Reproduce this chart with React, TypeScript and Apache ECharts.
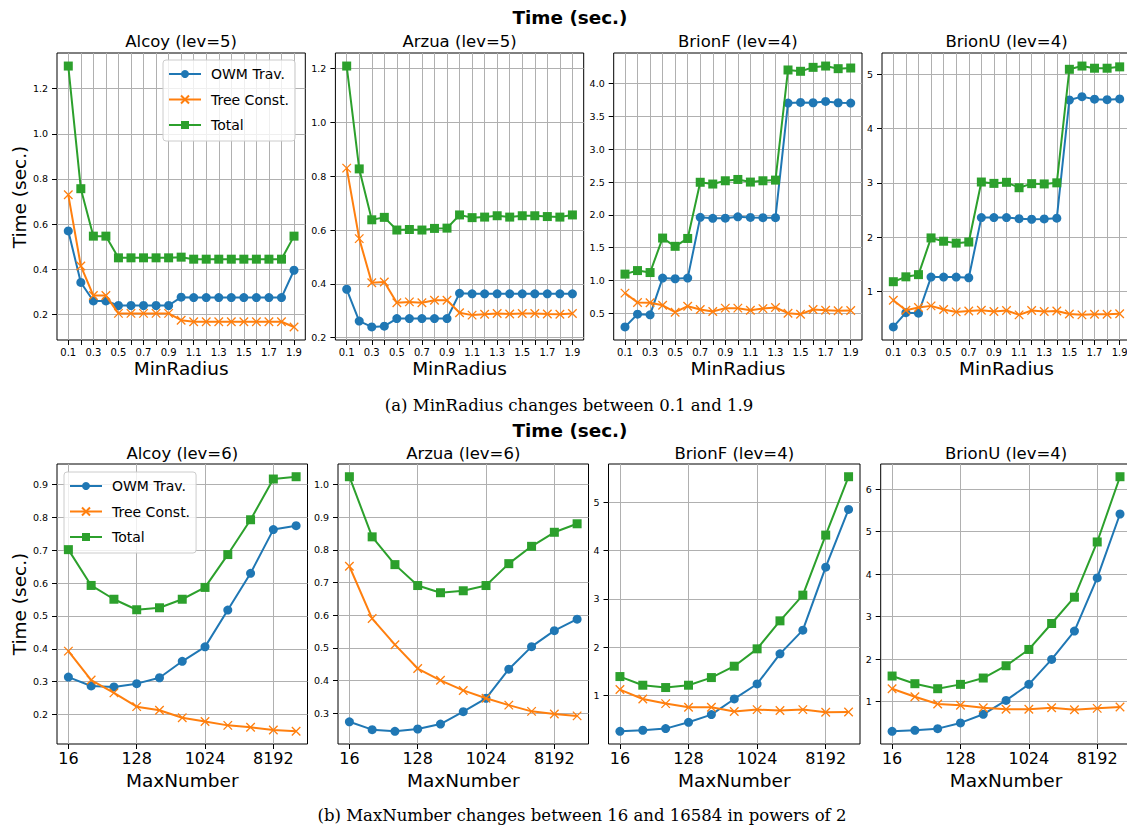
import React, { useEffect, useRef } from "react";
import * as echarts from "echarts";

// ---------- data ----------
const minRadius = [0.1, 0.2, 0.3, 0.4, 0.5, 0.6, 0.7, 0.8, 0.9, 1.0, 1.1, 1.2, 1.3, 1.4, 1.5, 1.6, 1.7, 1.8, 1.9];
const maxNumber = [16, 32, 64, 128, 256, 512, 1024, 2048, 4096, 8192, 16384];

const seriesNames = ["OWM Trav.", "Tree Const.", "Total"];

// (a) MinRadius
const alcoy5Owm = [0.57, 0.342, 0.26, 0.26, 0.24, 0.24, 0.24, 0.24, 0.24, 0.277, 0.275, 0.275, 0.275, 0.275, 0.275, 0.275, 0.275, 0.275, 0.396];
const alcoy5Tree = [0.73, 0.415, 0.284, 0.284, 0.205, 0.205, 0.205, 0.205, 0.205, 0.175, 0.168, 0.168, 0.168, 0.168, 0.168, 0.168, 0.168, 0.168, 0.145];
const alcoy5Total = [1.3, 0.757, 0.547, 0.547, 0.451, 0.451, 0.451, 0.451, 0.451, 0.454, 0.445, 0.445, 0.445, 0.445, 0.445, 0.445, 0.445, 0.445, 0.547];

const arzua5Owm = [0.38, 0.262, 0.24, 0.243, 0.271, 0.271, 0.271, 0.271, 0.271, 0.365, 0.363, 0.363, 0.363, 0.363, 0.363, 0.363, 0.363, 0.363, 0.363];
const arzua5Tree = [0.83, 0.568, 0.404, 0.407, 0.33, 0.333, 0.33, 0.339, 0.339, 0.293, 0.284, 0.287, 0.29, 0.288, 0.29, 0.29, 0.288, 0.287, 0.29];
const arzua5Total = [1.209, 0.827, 0.638, 0.647, 0.6, 0.602, 0.6, 0.606, 0.607, 0.656, 0.646, 0.648, 0.653, 0.648, 0.653, 0.653, 0.65, 0.648, 0.656];

const brionF4aOwm = [0.29, 0.485, 0.475, 1.035, 1.025, 1.035, 1.962, 1.947, 1.95, 1.97, 1.96, 1.957, 1.957, 3.705, 3.715, 3.71, 3.73, 3.71, 3.705];
const brionF4aTree = [0.806, 0.663, 0.658, 0.62, 0.515, 0.607, 0.556, 0.525, 0.577, 0.577, 0.546, 0.57, 0.587, 0.5, 0.485, 0.556, 0.546, 0.536, 0.54];
const brionF4aTotal = [1.096, 1.15, 1.12, 1.646, 1.52, 1.64, 2.497, 2.47, 2.52, 2.54, 2.5, 2.52, 2.53, 4.21, 4.19, 4.25, 4.27, 4.23, 4.24];

const brionU4aOwm = [0.347, 0.61, 0.6, 1.265, 1.265, 1.265, 1.253, 2.36, 2.36, 2.36, 2.34, 2.33, 2.335, 2.35, 4.525, 4.587, 4.54, 4.53, 4.544];
const brionU4aTree = [0.84, 0.655, 0.705, 0.735, 0.667, 0.624, 0.642, 0.655, 0.63, 0.65, 0.57, 0.65, 0.63, 0.642, 0.587, 0.57, 0.58, 0.58, 0.59];
const brionU4aTotal = [1.18, 1.27, 1.31, 1.986, 1.925, 1.89, 1.91, 3.015, 2.99, 3.01, 2.91, 2.985, 2.98, 3.0, 5.09, 5.15, 5.11, 5.11, 5.135];

// (b) MaxNumber
const alcoy6Owm = [0.314, 0.287, 0.284, 0.294, 0.312, 0.362, 0.406, 0.518, 0.63, 0.763, 0.775];
const alcoy6Tree = [0.393, 0.305, 0.266, 0.224, 0.213, 0.19, 0.179, 0.167, 0.161, 0.153, 0.149];
const alcoy6Total = [0.702, 0.593, 0.551, 0.519, 0.525, 0.551, 0.587, 0.687, 0.793, 0.917, 0.924];

const arzua6Owm = [0.274, 0.25, 0.245, 0.252, 0.267, 0.305, 0.346, 0.435, 0.504, 0.553, 0.588];
const arzua6Tree = [0.75, 0.59, 0.51, 0.437, 0.401, 0.37, 0.346, 0.325, 0.306, 0.298, 0.292];
const arzua6Total = [1.024, 0.84, 0.755, 0.691, 0.669, 0.675, 0.691, 0.758, 0.811, 0.854, 0.88];

const brionF4bOwm = [0.262, 0.283, 0.317, 0.448, 0.607, 0.93, 1.24, 1.862, 2.352, 3.655, 4.848];
const brionF4bTree = [1.124, 0.93, 0.834, 0.759, 0.759, 0.669, 0.71, 0.69, 0.71, 0.655, 0.662];
const brionF4bTotal = [1.393, 1.214, 1.166, 1.214, 1.372, 1.607, 1.966, 2.545, 3.076, 4.317, 5.524];

const brionU4bOwm = [0.304, 0.327, 0.366, 0.5, 0.703, 1.03, 1.407, 1.994, 2.66, 3.911, 5.413];
const brionU4bTree = [1.305, 1.117, 0.945, 0.914, 0.859, 0.82, 0.82, 0.859, 0.812, 0.843, 0.875];
const brionU4bTotal = [1.603, 1.423, 1.305, 1.407, 1.556, 1.845, 2.228, 2.838, 3.457, 4.756, 6.29];

// tick labels
const radiusTickLabels = ["0.1", "0.3", "0.5", "0.7", "0.9", "1.1", "1.3", "1.5", "1.7", "1.9"];
const numberTickLabels = ["16", "128", "1024", "8192"];
const yTicksSmall = [0.2, 0.4, 0.6, 0.8, 1.0, 1.2];
const yTicksBrionFa = [0.5, 1.0, 1.5, 2.0, 2.5, 3.0, 3.5, 4.0];
const yTicksBrionUa = [1, 2, 3, 4, 5];
const yTicksAlcoy6 = [0.2, 0.3, 0.4, 0.5, 0.6, 0.7, 0.8, 0.9];
const yTicksArzua6 = [0.3, 0.4, 0.5, 0.6, 0.7, 0.8, 0.9, 1.0];
const yTicksBrionFb = [1, 2, 3, 4, 5];
const yTicksBrionUb = [1, 2, 3, 4, 5, 6];

// ---------- styling / layout ----------
const FONT = "DejaVu Sans";
const COLORS = ["#1f77b4", "#ff7f0e", "#2ca02c"];
const X_PATH = "path://M0,0L10,10M10,0L0,10";

type Panel = {
  title: string;
  row: 0 | 1;
  left: number;
  width: number;
  data: number[][];
  yTicks: number[];
  yDecimals: number;
};

const panels: Panel[] = [
  { title: "Alcoy (lev=5)", row: 0, left: 57, width: 248.3, data: [alcoy5Owm, alcoy5Tree, alcoy5Total], yTicks: yTicksSmall, yDecimals: 1 },
  { title: "Arzua (lev=5)", row: 0, left: 335.4, width: 248.3, data: [arzua5Owm, arzua5Tree, arzua5Total], yTicks: yTicksSmall, yDecimals: 1 },
  { title: "BrionF (lev=4)", row: 0, left: 613.7, width: 248.3, data: [brionF4aOwm, brionF4aTree, brionF4aTotal], yTicks: yTicksBrionFa, yDecimals: 1 },
  { title: "BrionU (lev=4)", row: 0, left: 882, width: 249, data: [brionU4aOwm, brionU4aTree, brionU4aTotal], yTicks: yTicksBrionUa, yDecimals: 0 },
  { title: "Alcoy (lev=6)", row: 1, left: 57, width: 250.5, data: [alcoy6Owm, alcoy6Tree, alcoy6Total], yTicks: yTicksAlcoy6, yDecimals: 1 },
  { title: "Arzua (lev=6)", row: 1, left: 338, width: 250.5, data: [arzua6Owm, arzua6Tree, arzua6Total], yTicks: yTicksArzua6, yDecimals: 1 },
  { title: "BrionF (lev=4)", row: 1, left: 608.5, width: 251.5, data: [brionF4bOwm, brionF4bTree, brionF4bTotal], yTicks: yTicksBrionFb, yDecimals: 0 },
  { title: "BrionU (lev=4)", row: 1, left: 880.7, width: 250.7, data: [brionU4bOwm, brionU4bTree, brionU4bTotal], yTicks: yTicksBrionUb, yDecimals: 0 },
];

const ROW_TOP = [53, 464];
const ROW_H = [287, 280];

function buildOption() {
  const grid: any[] = [];
  const xAxis: any[] = [];
  const yAxis: any[] = [];
  const series: any[] = [];
  const graphic: any[] = [];

  panels.forEach((p, i) => {
    grid.push({
      left: p.left,
      top: ROW_TOP[p.row],
      width: p.width,
      height: ROW_H[p.row],
      show: true,
      borderColor: "#000",
      borderWidth: 1,
      backgroundColor: "transparent",
      containLabel: false,
      outerBoundsMode: "none",
    });

    const all = p.data.flat();
    const lo = Math.min(...all);
    const hi = Math.max(...all);
    const pad = (hi - lo) * 0.05;

    const isTop = p.row === 0;
    const xTickVals = isTop ? minRadius : numberTickLabels.map((s) => Math.log2(Number(s)));
    const xLabelVals = isTop ? radiusTickLabels.map(Number) : numberTickLabels.map((s) => Math.log2(Number(s)));

    xAxis.push({
      gridIndex: i,
      type: "value",
      min: isTop ? 0.01 : 3.5,
      max: isTop ? 1.99 : 14.5,
      axisLine: { show: false, onZero: false },
      axisTick: { show: true, length: 5, lineStyle: { color: "#000", width: 1 }, customValues: xTickVals },
      axisLabel: {
        customValues: xLabelVals,
        formatter: (v: number) => (isTop ? v.toFixed(1) : String(Math.round(Math.pow(2, v)))),
        color: "#000",
        fontFamily: FONT,
        fontSize: isTop ? 10 : 16,
        margin: isTop ? 7 : 6,
      },
      splitLine: { show: true, lineStyle: { color: "#b0b0b0", width: 1 } },
    });

    yAxis.push({
      gridIndex: i,
      type: "value",
      min: lo - pad,
      max: hi + pad,
      axisLine: { show: false, onZero: false },
      axisTick: { show: true, length: 5, lineStyle: { color: "#000", width: 1 }, customValues: p.yTicks },
      axisLabel: {
        customValues: p.yTicks,
        formatter: (v: number) => v.toFixed(p.yDecimals),
        color: "#000",
        fontFamily: FONT,
        fontSize: 9.5,
        margin: 9,
      },
      splitLine: { show: true, lineStyle: { color: "#b0b0b0", width: 1 } },
    });

    const xs = isTop ? minRadius : maxNumber.map((n) => Math.log2(n));
    p.data.forEach((vals, k) => {
      series.push({
        type: "line",
        name: seriesNames[k],
        xAxisIndex: i,
        yAxisIndex: i,
        data: vals.map((v, j) => [xs[j], v]),
        symbol: k === 0 ? "circle" : k === 1 ? X_PATH : "rect",
        symbolSize: k === 1 ? 8.5 : 9,
        showSymbol: true,
        lineStyle: { color: COLORS[k], width: 2 },
        itemStyle:
          k === 1
            ? { color: COLORS[k], borderColor: COLORS[k], borderWidth: 1.3 }
            : { color: COLORS[k], borderColor: COLORS[k], borderWidth: 0 },
        z: 2 + k,
        emphasis: { disabled: true },
      });
    });

    const cx = p.left + p.width / 2;
    graphic.push({
      type: "text",
      x: cx,
      y: isTop ? 41 : 453,
      style: { text: p.title, fontFamily: FONT, fontSize: 16.5, fill: "#000", align: "center", verticalAlign: "middle" },
    });
    graphic.push({
      type: "text",
      x: cx,
      y: isTop ? 368 : 780,
      style: { text: isTop ? "MinRadius" : "MaxNumber", fontFamily: FONT, fontSize: 18.5, fill: "#000", align: "center", verticalAlign: "middle" },
    });
  });

  // y-axis names
  [197, 604].forEach((y) => {
    graphic.push({
      type: "text",
      x: 19,
      y,
      rotation: Math.PI / 2,
      style: { text: "Time (sec.)", fontFamily: FONT, fontSize: 18.5, fill: "#000", align: "center", verticalAlign: "middle" },
    });
  });

  // suptitles
  [17, 430].forEach((y) => {
    graphic.push({
      type: "text",
      x: 570,
      y,
      style: { text: "Time (sec.)", fontFamily: FONT, fontSize: 18.4, fontWeight: "bold", fill: "#000", align: "center", verticalAlign: "middle" },
    });
  });

  // captions
  graphic.push({
    type: "text",
    x: 569,
    y: 405,
    style: { text: "(a) MinRadius changes between 0.1 and 1.9", fontFamily: "DejaVu Serif", fontSize: 16.5, fill: "#000", align: "center", verticalAlign: "middle" },
  });
  graphic.push({
    type: "text",
    x: 582,
    y: 815,
    style: { text: "(b) MaxNumber changes between 16 and 16584 in powers of 2", fontFamily: "DejaVu Serif", fontSize: 16.5, fill: "#000", align: "center", verticalAlign: "middle" },
  });

  const legendBase = {
    orient: "vertical",
    data: seriesNames,
    itemWidth: 32,
    itemHeight: 10,
    itemGap: 11.5,
    padding: [7, 6, 9, 5],
    backgroundColor: "rgba(255,255,255,0.8)",
    borderColor: "#cccccc",
    borderWidth: 1,
    borderRadius: 3,
    selectedMode: false,
    textStyle: { fontSize: 14, fontFamily: FONT, color: "#000", padding: [0, 0, 0, 5] },
  };

  return {
    animation: false,
    backgroundColor: "#fff",
    grid,
    xAxis,
    yAxis,
    series,
    graphic,
    legend: [
      { ...legendBase, left: 163, top: 60 },
      { ...legendBase, left: 64, top: 472 },
    ],
  };
}

export default function App() {
  const ref = useRef<HTMLDivElement>(null);
  useEffect(() => {
    if (!ref.current) return;
    const chart = echarts.init(ref.current, undefined, { renderer: "svg" });
    chart.setOption(buildOption() as any);
    return () => chart.dispose();
  }, []);
  return (
    <div
      ref={ref}
      style={{ position: "absolute", left: 0, top: 0, width: 1127, height: 828, overflow: "hidden", background: "#fff" }}
    />
  );
}
